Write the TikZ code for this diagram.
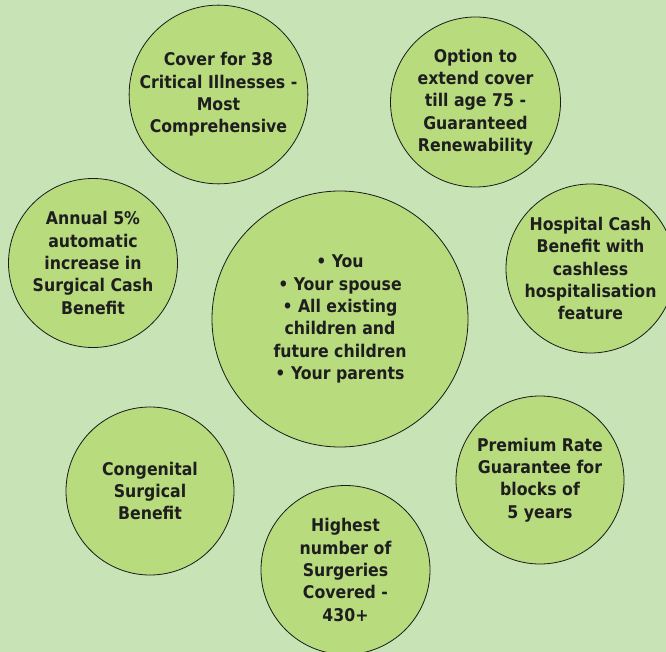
\documentclass[tikz,border=0pt]{standalone}
\usepackage{fontspec}
\newfontfamily\cf{DejaVu Sans Condensed Bold}
\definecolor{bg}{HTML}{C8E3B5}
\definecolor{disc}{HTML}{B8DB7E}
\definecolor{txt}{HTML}{1E1E1E}
\definecolor{rim}{HTML}{1A1A1A}
\begin{document}
\begin{tikzpicture}[x=1pt,y=-1pt,
  bubble/.style={circle, draw=rim, line width=0.8pt, fill=disc, inner sep=0pt,
    minimum size=169pt, align=center, text=txt,
    font={\cf\fontsize{17.5}{22.3}\selectfont}},
  bigbubble/.style={bubble, minimum size=256pt}]
\useasboundingbox (0,0) rectangle (666,652);
\clip (0,0) rectangle (666,652);
\fill[bg] (0,0) rectangle (666,652);
\node[bubble] (cover) at (218.5,94.5) {Cover for 38\\Critical Illnesses -\\Most\\Comprehensive};
\node[bubble, minimum size=170pt] (option) at (475.5,102) {Option to\\extend cover\\till age 75 -\\Guaranteed\\Renewability};
\node[bubble] (annual) at (93,263) {Annual 5\%\\automatic\\increase in\\Surgical Cash\\Benefit};
\node[bubble] (hospital) at (590.5,268.5) {Hospital Cash\\Benefit with\\cashless\\hospitalisation\\feature};
\node[bigbubble] (family) at (340,319) {• You\\• Your spouse\\• All existing\\children and\\future children\\• Your parents};
\node[bubble, minimum size=168pt] (congenital) at (150,491) {Congenital\\Surgical\\Benefit};
\node[bubble, minimum size=168pt] (premium) at (540,480) {Premium Rate\\Guarantee for\\blocks of\\5 years};
\node[bubble] (highest) at (345.5,570) {Highest\\number of\\Surgeries\\Covered -\\430+};
\end{tikzpicture}
\end{document}
